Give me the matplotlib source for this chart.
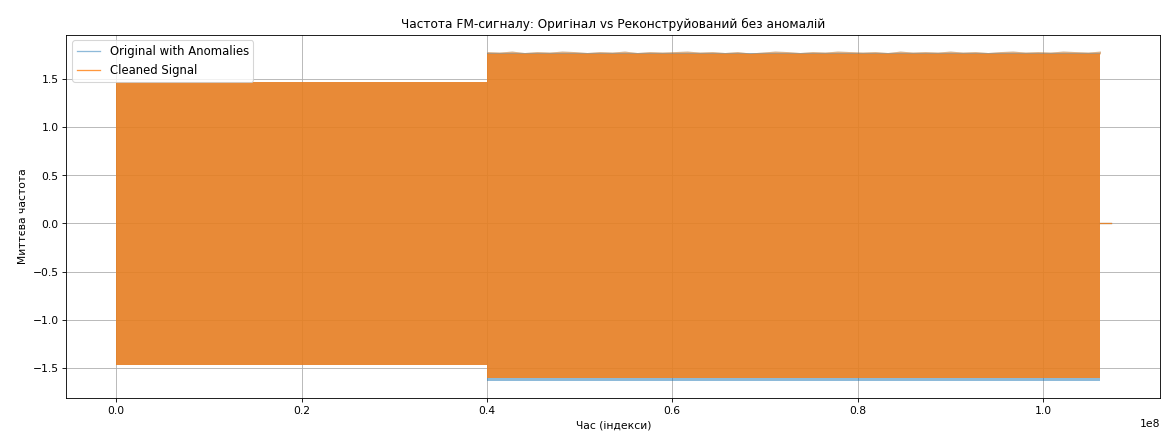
import numpy as np
import matplotlib as mpl
mpl.use('Agg')
import matplotlib.pyplot as plt

# sample-index boundaries of the two FM segments and the zero tail
seg_edges = [0.0, 0.4e8, 1.062e8]
tail_end = 1.073e8

# envelope of the instantaneous frequency in each segment
orig_upper = [1.47, 1.765]
orig_lower = [-1.47, -1.64]
clean_upper = [1.47, 1.76]
clean_lower = [-1.47, -1.605]

# peak heights along the second segment (ragged top edge)
peaks_seg2 = [1.785, 1.78, 1.79, 1.775, 1.785, 1.78, 1.79, 1.785, 1.775, 1.785,
              1.78, 1.79, 1.775, 1.785, 1.78, 1.785, 1.79, 1.78, 1.785, 1.775,
              1.785, 1.77, 1.78, 1.79, 1.785, 1.775, 1.785, 1.78, 1.79, 1.785,
              1.78, 1.785, 1.775, 1.79, 1.78, 1.785, 1.78, 1.79, 1.78, 1.785,
              1.775, 1.785, 1.79, 1.78, 1.785, 1.78, 1.79, 1.785, 1.78, 1.79]


fig = plt.figure(figsize=(15, 5.59))
ax = fig.add_subplot(111)
fig.subplots_adjust(left=0.057, right=0.996, top=0.92, bottom=0.083)
ax.set_axisbelow(True)

c_orig = 'tab:blue'
c_clean = 'tab:orange'

x_seg1 = np.array(seg_edges[:2])
x_seg2 = np.linspace(seg_edges[1], seg_edges[2], len(peaks_seg2))

for upper, lower, col, a, lab in [(orig_upper, orig_lower, c_orig, 0.5, 'Original with Anomalies'),
                                  (clean_upper, clean_lower, c_clean, 0.8, 'Cleaned Signal')]:
    # first segment: flat band
    ax.fill_between(x_seg1, [lower[0]] * 2, [upper[0]] * 2, color=col, alpha=a, linewidth=0)
    # second segment: solid band plus a faint ragged fringe of peaks on top
    ax.fill_between(x_seg2, [lower[1]] * len(x_seg2), [upper[1]] * len(x_seg2),
                    color=col, alpha=a, linewidth=0)
    ax.fill_between(x_seg2, [upper[1]] * len(x_seg2), peaks_seg2,
                    color=col, alpha=a * 0.55, linewidth=0)
    ax.plot([seg_edges[2], tail_end], [0, 0], color=col, alpha=a, linewidth=1.2, label=lab)

ax.set_title('Частота FM-сигналу: Оригінал vs Реконструйований без аномалій', fontsize=11.2)
ax.set_xlabel('Час (індекси)')
ax.set_ylabel('Миттєва частота')
ax.legend(loc='upper left', fontsize=10.8)
ax.grid(True)

fig.savefig('out.png', dpi=77.67)
plt.close()
